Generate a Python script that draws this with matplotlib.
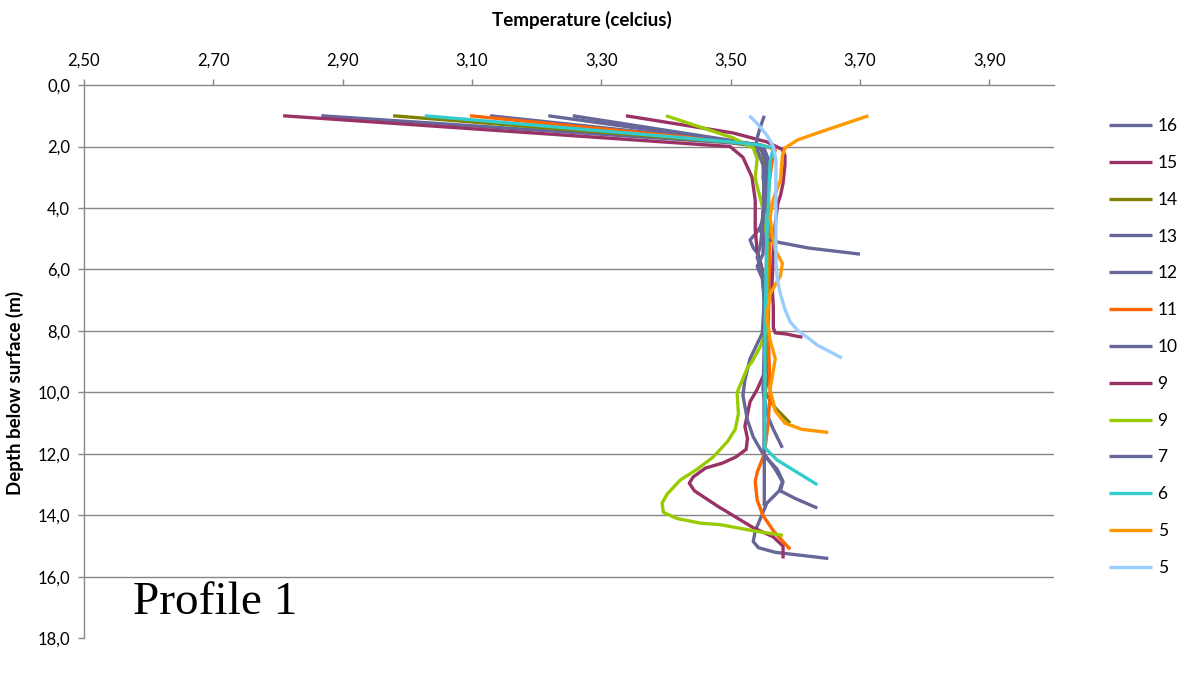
import matplotlib.pyplot as plt

# ---- data (temperature in celsius, depth in m) ----
labels = ['16', '15', '14', '13', '12', '11', '10', '9', '9', '7', '6', '5', '5']
colors = ['#666699', '#993366', '#808000', '#666699', '#666699', '#FF6600',
          '#666699', '#993366', '#99CC00', '#666699', '#33CCCC', '#FF9900', '#99CCFF']

t16 = [2.867, 3.50, 3.540, 3.552, 3.552, 3.550, 3.549, 3.540, 3.530, 3.535, 3.541, 3.546, 3.549,
       3.552, 3.552, 3.553, 3.552, 3.552, 3.552, 3.569, 3.580, 3.575, 3.556, 3.550, 3.538, 3.535,
       3.543, 3.569, 3.610, 3.651]
d16 = [1.0, 1.88, 1.98, 2.2, 3.0, 4.0, 4.5, 4.8, 5.04, 5.3, 5.46, 5.76, 6.0,
       7.0, 8.0, 9.0, 10.0, 11.0, 12.0, 12.5, 12.9, 13.2, 13.6, 13.9, 14.5, 14.85,
       15.05, 15.2, 15.3, 15.4]

t15 = [2.808, 3.499, 3.519, 3.533, 3.538, 3.538, 3.541, 3.546, 3.552, 3.556, 3.558, 3.556, 3.541,
       3.530, 3.522, 3.526, 3.524, 3.508, 3.487, 3.461, 3.442, 3.436, 3.444, 3.480, 3.535, 3.566,
       3.581, 3.581]
d15 = [1.0, 2.0, 2.35, 3.0, 3.75, 4.7, 5.4, 5.8, 6.5, 7.5, 8.5, 9.2, 9.9,
       10.3, 11.1, 11.5, 11.85, 12.1, 12.3, 12.46, 12.75, 12.95, 13.2, 13.7, 14.4, 14.7,
       15.0, 15.4]

t14 = [2.978, 3.50, 3.546, 3.553, 3.550, 3.556, 3.558, 3.555, 3.556, 3.558, 3.553, 3.569, 3.592]
d14 = [1.0, 1.86, 2.0, 2.5, 3.0, 4.0, 5.0, 6.0, 8.0, 9.5, 10.0, 10.5, 11.0]

t13 = [3.128, 3.50, 3.545, 3.555, 3.552, 3.550, 3.541, 3.549, 3.552, 3.549, 3.530, 3.522, 3.519,
       3.526, 3.535, 3.550, 3.572, 3.581, 3.577, 3.600, 3.634]
d13 = [1.0, 1.83, 1.96, 2.5, 4.0, 5.5, 5.9, 6.3, 7.0, 8.07, 8.9, 9.6, 10.1,
       10.9, 11.45, 12.0, 12.5, 12.9, 13.2, 13.45, 13.76]

t12 = [3.218, 3.50, 3.548, 3.556, 3.553, 3.556, 3.553, 3.550, 3.556, 3.566, 3.580]
d12 = [1.0, 1.82, 1.97, 2.5, 4.0, 6.0, 8.0, 9.9, 10.7, 11.2, 11.8]

t11 = [3.097, 3.50, 3.550, 3.569, 3.564, 3.560, 3.558, 3.561, 3.560, 3.558, 3.561, 3.558, 3.552,
       3.541, 3.538, 3.541, 3.550, 3.566, 3.581, 3.592]
d11 = [1.0, 1.84, 1.97, 2.1, 2.5, 3.1, 3.6, 4.3, 6.0, 8.0, 10.0, 11.0, 12.0,
       12.6, 12.9, 13.5, 14.0, 14.5, 14.85, 15.1]

t10 = [3.256, 3.50, 3.550, 3.558, 3.555, 3.550, 3.545, 3.553, 3.575, 3.620, 3.700]
d10 = [1.0, 1.80, 1.97, 2.4, 3.5, 4.3, 4.7, 5.0, 5.12, 5.3, 5.5]

t9a = [3.338, 3.504, 3.556, 3.580, 3.584, 3.584, 3.581, 3.577, 3.573, 3.569, 3.566, 3.564, 3.566,
       3.566, 3.569, 3.587, 3.597, 3.611]
d9a = [1.0, 1.56, 1.85, 2.1, 2.3, 2.6, 3.2, 3.6, 3.85, 4.5, 5.5, 6.5, 7.2,
       7.9, 8.06, 8.1, 8.15, 8.2]

t9b = [3.400, 3.504, 3.535, 3.541, 3.538, 3.541, 3.546, 3.553, 3.556, 3.556, 3.556, 3.555, 3.546,
       3.533, 3.526, 3.518, 3.510, 3.512, 3.507, 3.495, 3.473, 3.448, 3.422, 3.402, 3.394, 3.396,
       3.417, 3.453, 3.484, 3.535, 3.581]
d9b = [1.0, 1.72, 2.05, 2.4, 3.0, 3.3, 3.7, 4.3, 5.0, 6.0, 7.0, 8.0, 8.5,
       9.0, 9.2, 9.6, 10.0, 10.7, 11.2, 11.6, 12.1, 12.5, 12.85, 13.3, 13.6, 13.9,
       14.1, 14.25, 14.3, 14.5, 14.65]

t7 = [3.552, 3.546, 3.540, 3.541, 3.550, 3.552, 3.550, 3.546, 3.541, 3.550, 3.552, 3.552, 3.552,
      3.552, 3.552, 3.552]
d7 = [1.0, 1.36, 1.79, 2.1, 2.6, 3.5, 4.5, 5.2, 5.6, 6.2, 7.0, 9.0, 11.0,
      12.5, 13.0, 13.7]

t6 = [3.027, 3.50, 3.545, 3.566, 3.561, 3.556, 3.553, 3.553, 3.553, 3.572, 3.603, 3.634]
d6 = [1.0, 1.85, 1.95, 2.05, 2.5, 5.0, 8.0, 11.0, 11.8, 12.2, 12.6, 13.0]

t5a = [3.713, 3.634, 3.603, 3.584, 3.580, 3.577, 3.566, 3.561, 3.564, 3.569, 3.580, 3.577, 3.569,
       3.561, 3.556, 3.561, 3.569, 3.561, 3.569, 3.584, 3.610, 3.651]
d5a = [1.0, 1.56, 1.79, 2.05, 2.3, 3.1, 3.7, 4.3, 4.8, 5.37, 5.8, 6.2, 6.5,
       6.8, 7.5, 8.3, 8.9, 9.9, 10.6, 11.0, 11.2, 11.3]

t5b = [3.529, 3.541, 3.556, 3.566, 3.570, 3.570, 3.570, 3.572, 3.577, 3.584, 3.592, 3.603, 3.620,
       3.634, 3.672]
d5b = [1.0, 1.25, 1.63, 2.0, 2.45, 4.0, 5.7, 6.3, 6.8, 7.3, 7.7, 7.97, 8.23,
       8.46, 8.88]

temps = [t16, t15, t14, t13, t12, t11, t10, t9a, t9b, t7, t6, t5a, t5b]
depths = [d16, d15, d14, d13, d12, d11, d10, d9a, d9b, d7, d6, d5a, d5b]

xticks = [2.5, 2.7, 2.9, 3.1, 3.3, 3.5, 3.7, 3.9]
xticklabels = ['2,50', '2,70', '2,90', '3,10', '3,30', '3,50', '3,70', '3,90']
yticks = [0, 2, 4, 6, 8, 10, 12, 14, 16, 18]
yticklabels = ['0,0', '2,0', '4,0', '6,0', '8,0', '10,0', '12,0', '14,0', '16,0', '18,0']

# ---- drawing ----
plt.rcParams['font.family'] = ['Lato', 'DejaVu Sans']
gris = '#868686'

fig = plt.figure(figsize=(11.86, 6.77), dpi=100)
ax = fig.add_axes([0.0708, 0.057, 0.8179, 0.8174])

for y in yticks[1:-1]:
    ax.axhline(y, color=gris, lw=1.0, zorder=0)

for t, d, c, l in zip(temps, depths, colors, labels):
    ax.plot(t, d, color=c, lw=2.4, label=l, solid_capstyle='butt', solid_joinstyle='round')

ax.set_xlim(2.5, 4.0)
ax.set_ylim(18, 0)
ax.xaxis.tick_top()
ax.xaxis.set_label_position('top')
ax.set_xticks(xticks)
ax.set_xticklabels(xticklabels)
ax.set_yticks(yticks)
ax.set_yticklabels(yticklabels)
ax.tick_params(axis='both', colors=gris, labelcolor='black', labelsize=12,
               length=4, width=1.0, direction='out')
ax.tick_params(axis='x', pad=8)
ax.tick_params(axis='y', pad=6)

for s in ['right', 'bottom']:
    ax.spines[s].set_visible(False)
for s in ['top', 'left']:
    ax.spines[s].set_color(gris)
    ax.spines[s].set_linewidth(1.0)

fig.text(582 / 1186, 1 - 20 / 677, 'Temperature (celcius)', fontsize=13.5,
         fontweight='bold', ha='center', va='center')
fig.text(15 / 1186, 1 - 393 / 677, 'Depth below surface (m)', rotation=90,
         fontsize=13.5, fontweight='bold', ha='center', va='center')

fig.text(133 / 1186, 1 - 614 / 677, 'Profile 1', fontsize=34,
         family='Liberation Serif', ha='left', va='baseline')

fig.legend(loc='upper left', bbox_to_anchor=(1109 / 1186, 1 - 118 / 677), frameon=False,
           fontsize=12.5, handlelength=2.5, handletextpad=0.3, labelspacing=1.2,
           borderpad=0, borderaxespad=0)

fig.savefig('out.png', dpi=100)
